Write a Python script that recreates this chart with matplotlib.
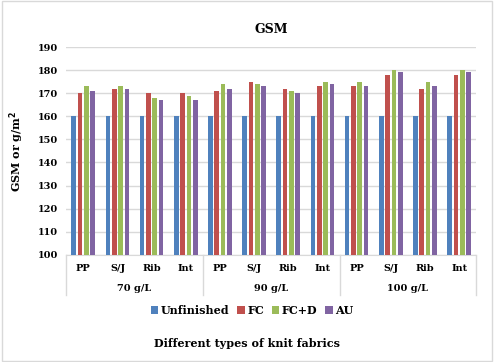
import matplotlib
matplotlib.use("Agg")
import matplotlib.pyplot as plt
import numpy as np

plt.rcParams['font.family'] = ['DejaVu Serif']
plt.rcParams['font.weight'] = 'bold'

fabrics = ["PP", "S/J", "Rib", "Int"]
groups = ["70 g/L", "90 g/L", "100 g/L"]
series = ["Unfinished", "FC", "FC+D", "AU"]
colors = ["#4F81BD", "#C0504D", "#9BBB59", "#8064A2"]

unfinished = [160, 160, 160, 160, 160, 160, 160, 160, 160, 160, 160, 160]
fc = [170, 172, 170, 170, 171, 175, 172, 173, 173, 178, 172, 178]
fc_d = [173, 173, 168, 169, 174, 174, 171, 175, 175, 180, 175, 180]
au = [171, 172, 167, 167, 172, 173, 170, 174, 173, 179, 173, 179]
values = [unfinished, fc, fc_d, au]

fig = plt.figure(figsize=(4.94, 3.62), dpi=100)
ax = fig.add_axes([0.134, 0.296, 0.830, 0.574])

x = np.arange(len(unfinished))
step = 0.185
width = 0.137
for i, (name, vals) in enumerate(zip(series, values)):
    ax.bar(x + (i - 1.5) * step, vals, width, color=colors[i], label=name, zorder=3)

ax.set_ylim(100, 190)
ax.set_xlim(-0.5, len(x) - 0.5)
ax.set_yticks(np.arange(100, 191, 10))
ax.yaxis.grid(True, color="#D9D9D9", linewidth=1, zorder=0)
ax.tick_params(axis="y", length=0, labelsize=7, pad=6)
ax.set_xticks([])
for s in ["top", "right", "left"]:
    ax.spines[s].set_visible(False)
ax.spines["bottom"].set_color("#D9D9D9")

trans = ax.get_xaxis_transform()
for k in range(len(x)):
    ax.text(k, -0.065, fabrics[k % 4], transform=trans, ha="center", va="center",
            fontsize=7)
for g, label in enumerate(groups):
    ax.text(g * 4 + 1.5, -0.16, label, transform=trans, ha="center", va="center",
            fontsize=7)
for b in range(4):
    ax.plot([b * 4 - 0.5, b * 4 - 0.5], [0, -0.195], transform=trans,
            color="#D9D9D9", linewidth=1, clip_on=False)

ax.set_title("GSM", fontsize=9, fontweight="bold", pad=10)
ax.set_ylabel("GSM or g/m$^2$", fontsize=8, fontweight="bold", labelpad=8)

fig.legend(loc="center", bbox_to_anchor=(0.51, 0.143), ncol=4, fontsize=8,
           frameon=False, handlelength=0.7, handleheight=0.7, handletextpad=0.2,
           columnspacing=0.7)
fig.text(0.5, 0.05, "Different types of knit fabrics", ha="center", va="center",
         fontsize=8, fontweight="bold")

fig.patches.append(plt.Rectangle((0.004, 0.004), 0.992, 0.992, transform=fig.transFigure,
                                 fill=False, edgecolor="#D9D9D9", linewidth=1))

fig.savefig("out.png", dpi=100)
